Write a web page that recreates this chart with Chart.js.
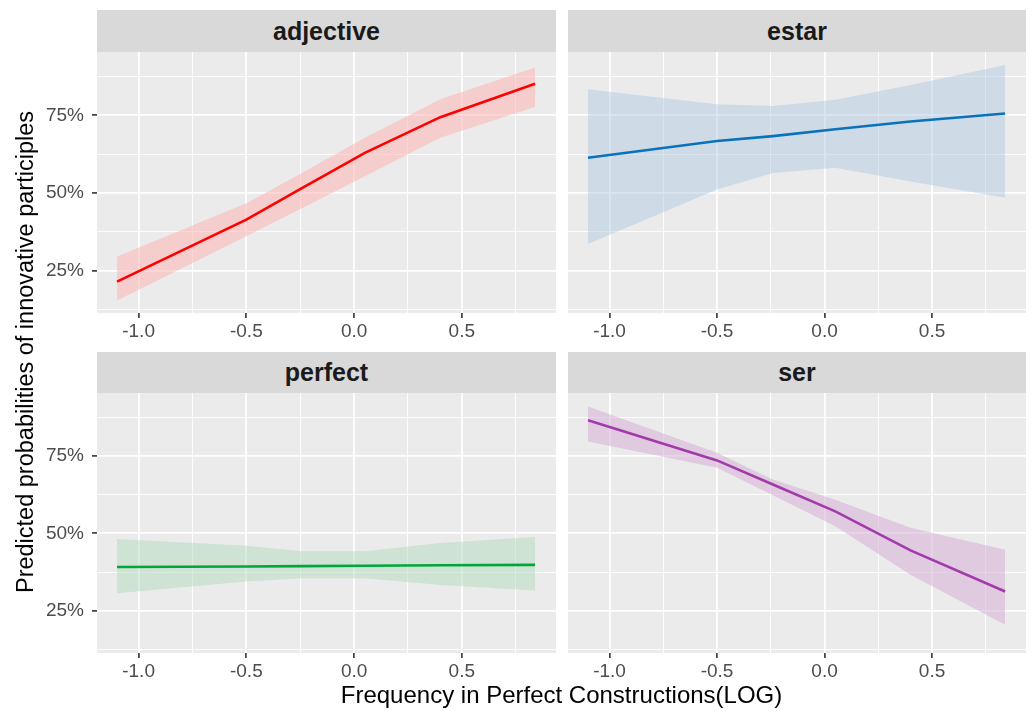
<!DOCTYPE html>
<html>
<head>
<meta charset="utf-8">
<script src="https://cdn.jsdelivr.net/npm/chart.js@4.4.1/dist/chart.umd.min.js"></script>
<style>
  html, body { margin: 0; padding: 0; background: #ffffff; }
  #wrap { position: relative; width: 1033px; height: 711px; overflow: hidden; background: #fff;
          font-family: "Liberation Sans", Arial, Helvetica, sans-serif; }
  canvas { position: absolute; }
  .strip { position: absolute; background: #D9D9D9; color: #1A1A1A; font-weight: bold;
           font-size: 25px; text-align: center; }
  .xtitle { position: absolute; left: 97px; width: 929px; top: 683px; height: 24px; line-height: 24px;
            font-size: 24px; color: #000; text-align: center; }
  .ytitle { position: absolute; width: 640px; height: 30px; line-height: 30px; font-size: 23.5px;
            color: #000; text-align: center; left: -294.8px; top: 337px; transform: rotate(-90deg); }
</style>
</head>
<body>
<div id="wrap">
  <div class="strip" style="left:97px;top:10px;width:459px;height:42px;line-height:42px;">adjective</div>
  <div class="strip" style="left:568px;top:10px;width:458px;height:42px;line-height:42px;">estar</div>
  <div class="strip" style="left:97px;top:352px;width:459px;height:41px;line-height:41px;">perfect</div>
  <div class="strip" style="left:568px;top:352px;width:458px;height:41px;line-height:41px;">ser</div>
  <canvas id="c0" width="556" height="298" style="left:0px;top:52px;"></canvas>
  <canvas id="c1" width="458" height="298" style="left:568px;top:52px;"></canvas>
  <canvas id="c2" width="556" height="297" style="left:0px;top:393px;"></canvas>
  <canvas id="c3" width="458" height="297" style="left:568px;top:393px;"></canvas>
  <div class="xtitle">Frequency in Perfect Constructions(LOG)</div>
  <div class="ytitle">Predicted probabilities of innovative participles</div>
</div>
<script>
// ---- data ----
const panelNames = ['adjective', 'estar', 'perfect', 'ser'];
const xValues = [-1.1, -0.5, -0.24, 0.05, 0.4, 0.84];

const adjectiveFit   = [21.4, 41.4, 51.6, 62.9, 74.4, 85.2];
const adjectiveUpper = [29.5, 46.7, 56.5, 67.8, 80.2, 90.4];
const adjectiveLower = [15.3, 36.0, 45.1, 55.4, 67.8, 77.7];

const estarFit   = [61.3, 66.7, 68.3, 70.5, 73.0, 75.6];
const estarUpper = [83.4, 78.6, 78.0, 80.0, 84.8, 91.2];
const estarLower = [33.5, 51.1, 56.4, 58.1, 53.7, 48.4];

const perfectFit   = [39.1, 39.3, 39.4, 39.5, 39.7, 39.8];
const perfectUpper = [48.2, 46.0, 44.2, 44.2, 46.9, 48.8];
const perfectLower = [30.6, 34.4, 35.5, 35.5, 33.3, 31.5];

const serFit   = [86.6, 73.6, 65.8, 57.1, 44.5, 31.2];
const serUpper = [91.0, 76.1, 67.4, 60.9, 51.8, 44.7];
const serLower = [79.7, 71.2, 62.3, 52.3, 36.6, 20.4];

const xMajorTicks = [-1.0, -0.5, 0.0, 0.5];
const xMajorLabels = ['-1.0', '-0.5', '0.0', '0.5'];
const xMinorTicks = [-0.75, -0.25, 0.25, 0.75];
const yMajorTicks = [25, 50, 75];
const yMajorLabels = ['25%', '50%', '75%'];
const yMinorTicks = [12.5, 37.5, 62.5, 87.5];

// ---- styling ----
const lineColors = ['#FF0000', '#0A72BA', '#00A63C', '#A23AAB'];
const bandColors = ['rgba(255,180,180,0.55)', 'rgba(170,200,225,0.45)', 'rgba(180,220,190,0.5)', 'rgba(215,175,215,0.55)'];
const fits = [adjectiveFit, estarFit, perfectFit, serFit];
const uppers = [adjectiveUpper, estarUpper, perfectUpper, serUpper];
const lowers = [adjectiveLower, estarLower, perfectLower, serLower];

const FONT = '"Liberation Sans", Arial, Helvetica, sans-serif';
const toPts = arr => arr.map((v, i) => ({ x: xValues[i], y: v }));

const bgPlugin = {
  id: 'panelBg',
  beforeDraw(chart) {
    const a = chart.chartArea, c = chart.ctx;
    c.save();
    c.fillStyle = '#EBEBEB';
    c.fillRect(a.left, a.top, a.right - a.left, a.bottom - a.top);
    c.restore();
  }
};

function makeChart(idx) {
  const showY = (idx % 2 === 0);
  const isMajorX = v => xMajorTicks.some(t => Math.abs(t - v) < 1e-9);
  const isMajorY = v => yMajorTicks.some(t => Math.abs(t - v) < 1e-9);
  return new Chart(document.getElementById('c' + idx), {
    type: 'line',
    data: {
      datasets: [
        { data: toPts(fits[idx]), fill: false, borderColor: lineColors[idx], borderWidth: 2.6, pointRadius: 0, tension: 0 },
        { data: toPts(uppers[idx]), fill: '+1', backgroundColor: bandColors[idx], borderWidth: 0, borderColor: 'rgba(0,0,0,0)', pointRadius: 0, tension: 0 },
        { data: toPts(lowers[idx]), fill: false, borderWidth: 0, borderColor: 'rgba(0,0,0,0)', pointRadius: 0, tension: 0 }
      ]
    },
    options: {
      responsive: false,
      animation: false,
      events: [],
      layout: { padding: 0 },
      plugins: { legend: { display: false }, tooltip: { enabled: false } },
      scales: {
        x: {
          type: 'linear', min: -1.193, max: 0.937,
          afterBuildTicks: s => { s.ticks = xMajorTicks.concat(xMinorTicks).sort((a, b) => a - b).map(v => ({ value: v })); },
          afterFit: s => { s.height = 37; s.paddingLeft = 0; s.paddingRight = 0; },
          ticks: {
            autoSkip: false, maxRotation: 0, padding: 2, color: '#4D4D4D',
            font: { family: FONT, size: 19 },
            callback: v => { const k = xMajorTicks.findIndex(t => Math.abs(t - v) < 1e-9); return k >= 0 ? xMajorLabels[k] : ''; }
          },
          grid: {
            color: '#FFFFFF',
            lineWidth: c => (c.tick && isMajorX(c.tick.value)) ? 1.8 : 0.9,
            tickColor: c => (c.tick && isMajorX(c.tick.value)) ? '#333333' : 'rgba(0,0,0,0)',
            tickLength: 5, tickWidth: 1.6, drawTicks: true
          },
          border: { display: false }
        },
        y: {
          type: 'linear', min: 11.3, max: 95.4, display: true,
          afterBuildTicks: s => { s.ticks = yMajorTicks.concat(yMinorTicks).sort((a, b) => a - b).map(v => ({ value: v })); },
          afterFit: s => { s.width = showY ? 97 : 0; s.paddingTop = 0; s.paddingBottom = 0; },
          ticks: {
            display: showY, padding: 8, color: '#4D4D4D',
            font: { family: FONT, size: 19 },
            callback: v => { const k = yMajorTicks.findIndex(t => Math.abs(t - v) < 1e-9); return k >= 0 ? yMajorLabels[k] : ''; }
          },
          grid: {
            color: '#FFFFFF',
            lineWidth: c => (c.tick && isMajorY(c.tick.value)) ? 1.8 : 0.9,
            tickColor: c => (showY && c.tick && isMajorY(c.tick.value)) ? '#333333' : 'rgba(0,0,0,0)',
            tickLength: showY ? 5 : 0, tickWidth: 1.6, drawTicks: showY
          },
          border: { display: false }
        }
      }
    },
    plugins: [bgPlugin]
  });
}

for (let i = 0; i < panelNames.length; i++) makeChart(i);
</script>
</body>
</html>
